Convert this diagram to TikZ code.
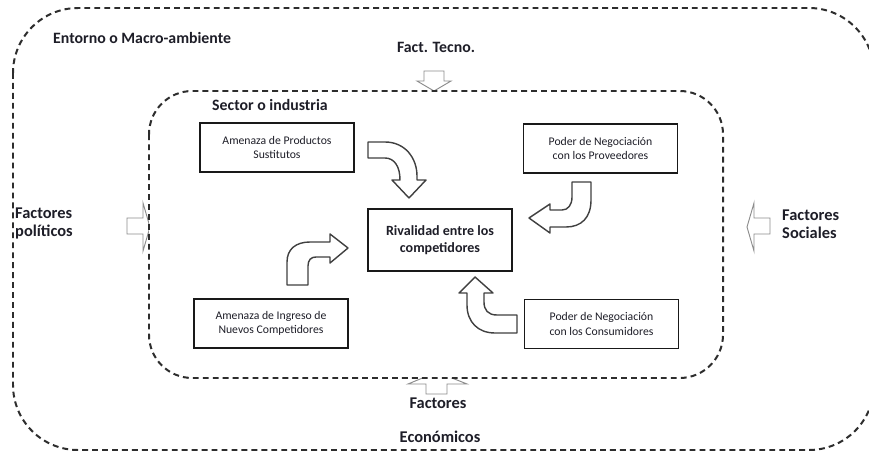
\documentclass[tikz,border=0pt]{standalone}
\usepackage{fontspec}
\setmainfont{Carlito}
\usepackage{xcolor}
\usepackage{tikz}
\usetikzlibrary{positioning}
\definecolor{labelink}{RGB}{30,30,40}
\definecolor{dashgray}{RGB}{45,45,45}

\begin{document}
\begin{tikzpicture}[x=0.03cm, y=-0.03cm,
    zone/.style={draw=dashgray, line width=1.7pt, dash pattern=on 5pt off 3.5pt},
    forcebox/.style={draw=black!90, line width=1.5pt, fill=white, minimum width=4.62cm,
                     minimum height=1.47cm, align=center, text=labelink,
                     font=\fontsize{10}{12}\selectfont},
    title/.style={text=labelink, font=\bfseries\fontsize{13.5}{16}\selectfont, inner sep=0pt},
    factor/.style={text=labelink, font=\bfseries\fontsize{14}{15.3}\selectfont, inner sep=0pt, align=left},
    bendarrow/.style={draw=black!75, line width=1.2pt, fill=white, line join=round},
    sidearrow/.style={draw=black!45, line width=0.8pt, fill=white}]
  \fill[white] (0,0) rectangle (869,452);
  \useasboundingbox (0,0) rectangle (869,452);

  % entorno
  \draw[zone, rounded corners=1.95cm] (13,8) rectangle (874,450);
  \node[title, anchor=west] (entorno) at (53,38) {Entorno o Macro-ambiente};
  \node[title] (tecno) at (436,47) {Fact. Tecno.};
  \node[factor, anchor=north west] (politicos) at (15,208) {Factores\\políticos};
  \node[factor, anchor=north west] (sociales) at (782,210) {Factores\\Sociales};
  \node[factor] (factores) at (438,403) {Factores};
  \node[factor] (economicos) at (440,437) {Económicos};

  % flechas del entorno
  \draw[sidearrow] (426,394) -- (426,384) -- (408,384) -- (437,372) -- (467,384)
    -- (447,384) -- (447,394) -- cycle;
  \draw[sidearrow] (424,71) -- (444,71) -- (444,81) -- (451,81) -- (434,91)
    -- (417,81) -- (424,81) -- cycle;
  \draw[sidearrow] (127,218) -- (143,218) -- (143,203) -- (150,227) -- (143,251)
    -- (143,234) -- (127,234) -- cycle;
  \draw[sidearrow] (770,218) -- (754,218) -- (754,203) -- (747,227) -- (754,251)
    -- (754,234) -- (770,234) -- cycle;

  % sector
  \draw[zone, fill=white, rounded corners=1.3cm] (149,91) rectangle (723,378);
  \node[title, anchor=west] (sector) at (212,105) {Sector o industria};

  \node[forcebox] (sustitutos) at (277,147.5) {Amenaza de Productos\\Sustitutos};
  \node[forcebox] (proveedores) at (600.5,148.5) {Poder de Negociación\\con los Proveedores};
  \node[forcebox] (ingreso) at (271,323.5) {Amenaza de Ingreso de\\Nuevos Competidores};
  \node[forcebox] (consumidores) at (601.5,324) {Poder de Negociación\\con los Consumidores};
  \node[forcebox, minimum width=4.32cm, minimum height=1.86cm,
        font=\bfseries\fontsize{12}{15}\selectfont] (rivalidad) at (440,240)
        {Rivalidad entre los\\competidores};

  % flechas curvas
  \draw[bendarrow] (368,142) -- (385,142) .. controls (405,142) and (417,158) .. (417,176)
    -- (417,180) -- (426,180) -- (409,198) -- (392,180) -- (400,180)
    .. controls (400,166) and (394,158) .. (385,158) -- (368,158) -- cycle;
  \draw[bendarrow] (572,182) -- (591,182) -- (591,200) .. controls (591,218) and (581,227) .. (566,227)
    -- (550,227) -- (550,233) -- (529,218) -- (550,204) -- (550,210) -- (562,210)
    .. controls (568,210) and (572,205) .. (572,197) -- cycle;
  \draw[bendarrow] (287,285) -- (287,262) .. controls (287,249) and (296,242) .. (310,242)
    -- (330,242) -- (330,234) -- (348,248) -- (330,263) -- (330,257) -- (316,257)
    .. controls (311,257) and (308,260) .. (308,266) -- (308,285) -- cycle;
  \draw[bendarrow] (517,315) -- (497,315) .. controls (488,315) and (484,310) .. (484,302)
    -- (484,293) -- (493,293) -- (475,277) -- (459,293) -- (467,293) -- (467,305)
    .. controls (467,322) and (478,333) .. (495,333) -- (517,333) -- cycle;
\end{tikzpicture}
\end{document}
